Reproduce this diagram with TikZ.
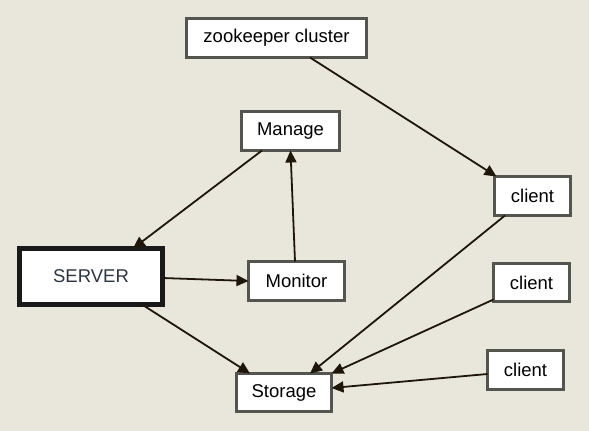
\documentclass[tikz,border=0pt]{standalone}
\usepackage{fontspec}
\setmainfont{Liberation Sans}
\usetikzlibrary{arrows.meta}
\definecolor{bgcol}{HTML}{E9E7DB}
\definecolor{boxline}{HTML}{555550}
\definecolor{edgecol}{HTML}{1E160A}
\definecolor{srvtext}{HTML}{2E3440}

\begin{document}
\begin{tikzpicture}[x=1pt,y=-1pt,
    box/.style={draw=boxline,line width=3pt,fill=white,inner sep=0pt,outer sep=0pt,
                font=\fontsize{18.5}{22}\selectfont,text=black},
    bigbox/.style={box,draw=black!90,line width=5pt,text=srvtext},
    link/.style={draw=edgecol,line width=1.8pt,-{Triangle[length=12pt,width=11pt]}}]
    % Background
    \fill[bgcol] (0,0) rectangle (589,431);
    \useasboundingbox (0,0) rectangle (589,431);

    % Boxes
    \node[box,minimum width=180pt,minimum height=39pt] (zk) at (276.5,38) {zookeeper cluster};
    \node[box,minimum width=98pt,minimum height=39pt] (manage) at (290.5,131) {Manage};
    \node[box,minimum width=76pt,minimum height=39pt] (cla) at (532.5,196) {client};
    \node[box,minimum width=76pt,minimum height=38pt] (clb) at (531.5,282.5) {client};
    \node[box,minimum width=76pt,minimum height=39pt] (clc) at (525.5,370) {client};
    \node[box,minimum width=96pt,minimum height=39pt] (monitor) at (296.5,281) {Monitor};
    \node[box,minimum width=95pt,minimum height=38pt] (storage) at (284,392.5) {Storage};
    \node[bigbox,minimum width=143pt,minimum height=56pt] (server) at (91,276.5) {SERVER};

    % Links
    \draw[link] ([xshift=33.5pt]zk.south) -- ([xshift=2pt]cla.north west);
    \draw[link] ([xshift=-28.5pt]manage.south) -- ([xshift=42pt]server.north);
    \draw[link] ([xshift=-1.5pt]monitor.north) -- (manage.south);
    \draw[link] ([yshift=-1.5pt]server.east) -- (monitor.west);
    \draw[link] ([xshift=51pt]server.south) -- ([xshift=-34pt]storage.north);
    \draw[link] ([xshift=-27.5pt]cla.south) -- ([xshift=26pt]storage.north);
    \draw[link] ([yshift=2pt]clb.south west) -- (storage.north east);
    \draw[link] ([yshift=-4pt]clc.west) -- ([yshift=4.5pt]storage.east);
\end{tikzpicture}
\end{document}
